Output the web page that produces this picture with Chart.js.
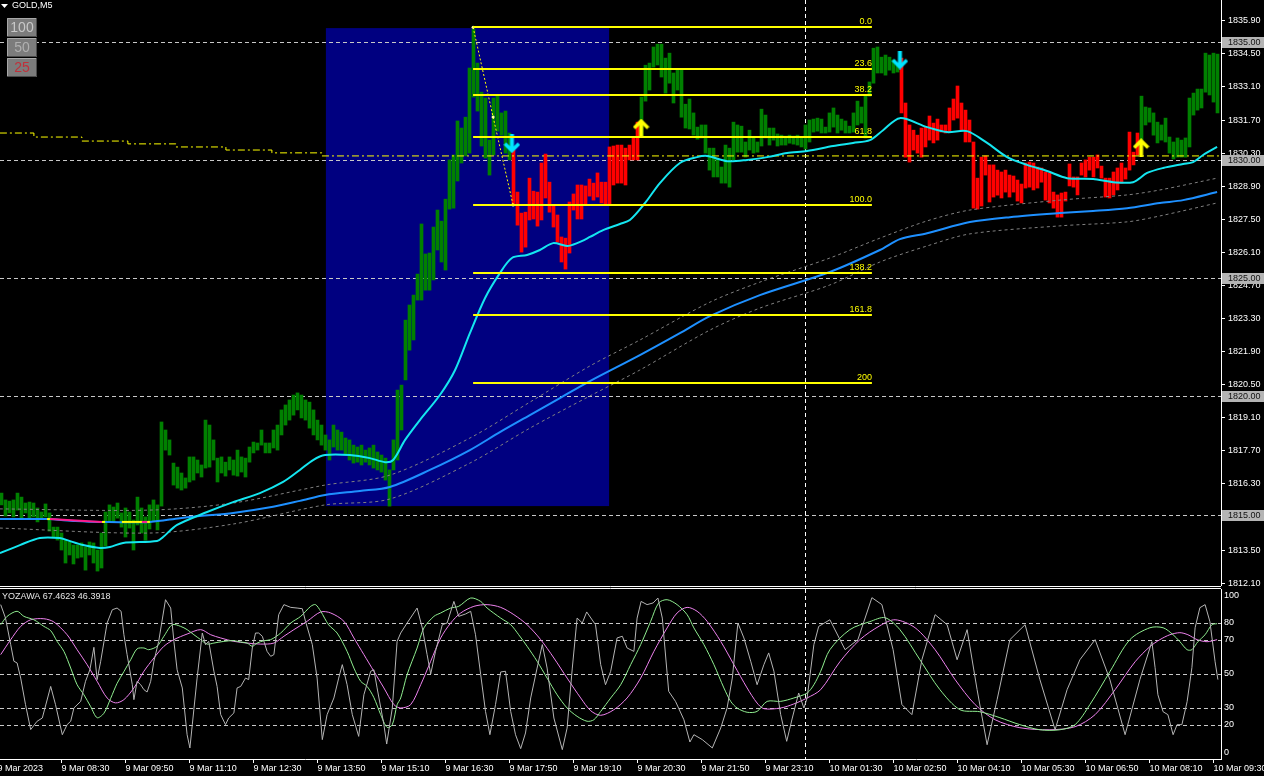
<!DOCTYPE html>
<html>
<head>
<meta charset="utf-8">
<title>GOLD,M5</title>
<script src="https://cdn.jsdelivr.net/npm/chart.js@4.4.1/dist/chart.umd.min.js"></script>
<style>
  html, body { margin: 0; padding: 0; background: #000; }
  #wrap { position: relative; width: 1264px; height: 776px; background: #000; overflow: hidden; }
  #wrap canvas { position: absolute; left: 0; top: 0; }
</style>
</head>
<body>
<div id="wrap">
  <canvas id="priceChart" width="1264" height="776"></canvas>
  <canvas id="oscChart" width="1264" height="776"></canvas>
</div>
<script>
// ---- data ----
const firstBar = 1;
const barHigh = [
  1815.91, 1815.62, 1815.57, 1815.62, 1815.91, 1815.74, 1815.49, 1815.53, 1815.49, 1815.28,
  1815.11, 1815.45, 1815.07, 1814.47, 1814.47, 1814.22, 1813.92, 1813.84, 1813.71, 1813.71,
  1813.80, 1813.63, 1813.84, 1813.80, 1813.50, 1814.22, 1815.11, 1815.41, 1815.32, 1815.49,
  1815.07, 1815.28, 1815.11, 1814.77, 1815.74, 1815.28, 1814.90, 1815.41, 1815.62, 1815.41,
  1818.92, 1818.58, 1818.16, 1817.18, 1817.01, 1816.76, 1816.55, 1817.44, 1817.44, 1817.31,
  1817.10, 1819.00, 1818.79, 1818.16, 1817.39, 1817.44, 1817.22, 1817.44, 1817.31, 1817.73,
  1817.44, 1817.39, 1817.86, 1818.07, 1818.03, 1818.58, 1818.03, 1818.03, 1818.58, 1818.79,
  1819.43, 1819.64, 1819.85, 1820.06, 1820.15, 1820.06, 1819.85, 1819.76, 1819.43, 1819.00,
  1818.79, 1818.37, 1818.16, 1818.79, 1818.58, 1818.49, 1818.24, 1818.16, 1817.94, 1817.86,
  1817.94, 1817.73, 1817.82, 1817.94, 1817.65, 1817.52, 1817.39, 1816.89, 1818.16, 1820.27,
  1820.48, 1823.23, 1823.87, 1824.29, 1825.18, 1827.30, 1826.03, 1826.07, 1827.17, 1827.89,
  1827.42, 1828.35, 1830.01, 1830.22, 1831.66, 1831.36, 1831.82, 1833.90, 1835.55, 1834.11,
  1832.88, 1832.63, 1830.85, 1832.63, 1832.71, 1832.00, 1832.08, 1831.15, 1830.43, 1828.65,
  1827.76, 1827.80, 1829.24, 1828.69, 1828.65, 1829.88, 1830.26, 1829.07, 1828.10, 1827.68,
  1826.75, 1826.70, 1828.23, 1828.57, 1828.95, 1828.95, 1828.91, 1829.20, 1829.03, 1829.46,
  1829.07, 1829.07, 1830.56, 1830.60, 1830.64, 1830.64, 1830.51, 1830.64, 1830.94, 1831.61,
  1832.67, 1834.02, 1834.11, 1834.79, 1834.91, 1834.91, 1834.32, 1834.53, 1833.69, 1833.81,
  1833.81, 1832.37, 1832.59, 1832.00, 1831.40, 1831.49, 1831.49, 1830.51, 1830.51, 1830.09,
  1829.71, 1830.64, 1830.51, 1831.61, 1831.49, 1831.44, 1830.77, 1831.27, 1830.94, 1830.77,
  1832.16, 1831.91, 1831.36, 1831.36, 1831.11, 1831.06, 1831.02, 1831.06, 1831.02, 1831.06,
  1830.98, 1831.49, 1831.70, 1831.74, 1831.78, 1831.74, 1831.40, 1832.00, 1832.21, 1831.91,
  1831.74, 1831.66, 1831.44, 1832.00, 1832.50, 1832.25, 1832.71, 1833.31, 1834.74, 1834.79,
  1834.36, 1834.45, 1834.36, 1834.24, 1834.11, 1834.32, 1832.42, 1831.49, 1831.27, 1831.06,
  1831.36, 1831.40, 1831.87, 1831.57, 1831.74, 1831.49, 1831.49, 1832.21, 1832.59, 1833.14,
  1832.42, 1832.12, 1831.70, 1830.77, 1829.24, 1830.13, 1830.18, 1829.80, 1829.80, 1829.58,
  1829.50, 1829.58, 1829.37, 1829.33, 1829.16, 1828.99, 1829.88, 1829.92, 1829.88, 1829.71,
  1829.67, 1829.50, 1829.46, 1828.65, 1828.53, 1828.61, 1828.65, 1829.84, 1829.29, 1829.29,
  1829.88, 1830.01, 1830.13, 1830.13, 1830.22, 1829.75, 1829.24, 1829.24, 1829.50, 1829.67,
  1829.88, 1829.67, 1831.19, 1830.34, 1831.15, 1832.71, 1832.25, 1832.21, 1832.00, 1831.61,
  1831.49, 1831.78, 1830.98, 1830.77, 1830.94, 1830.85, 1830.94, 1832.63, 1832.84, 1833.01,
  1833.01, 1834.53, 1834.45, 1834.53, 1834.49
];
const barLow = [
  1815.41, 1814.94, 1815.07, 1814.90, 1815.19, 1814.85, 1815.07, 1814.81, 1814.90, 1814.69,
  1814.85, 1814.90, 1814.30, 1814.05, 1813.92, 1813.50, 1812.95, 1813.29, 1812.91, 1813.16,
  1813.20, 1812.65, 1813.29, 1812.95, 1812.61, 1812.74, 1813.67, 1814.69, 1814.69, 1814.85,
  1814.47, 1814.05, 1814.43, 1813.50, 1814.56, 1814.22, 1813.92, 1814.39, 1814.69, 1814.35,
  1815.36, 1817.73, 1817.52, 1816.25, 1816.12, 1816.04, 1816.12, 1816.38, 1816.46, 1816.76,
  1816.59, 1816.97, 1817.01, 1817.31, 1816.38, 1816.76, 1816.63, 1816.89, 1816.67, 1816.63,
  1816.80, 1816.59, 1817.22, 1817.61, 1817.73, 1817.94, 1817.61, 1817.61, 1817.82, 1817.73,
  1818.37, 1818.79, 1819.00, 1819.21, 1819.43, 1819.09, 1819.00, 1818.66, 1818.37, 1818.16,
  1817.94, 1817.73, 1817.31, 1817.86, 1817.73, 1817.73, 1817.52, 1817.31, 1817.18, 1817.22,
  1817.10, 1817.22, 1817.10, 1816.97, 1816.89, 1816.80, 1816.46, 1815.36, 1816.89, 1817.31,
  1818.58, 1820.70, 1821.96, 1822.39, 1824.08, 1824.08, 1824.50, 1824.50, 1824.93, 1826.20,
  1825.69, 1825.35, 1827.93, 1827.97, 1829.12, 1829.88, 1830.18, 1830.30, 1832.67, 1832.08,
  1830.60, 1830.09, 1829.37, 1830.22, 1831.23, 1831.06, 1830.30, 1830.01, 1828.10, 1827.25,
  1826.11, 1826.32, 1827.47, 1827.51, 1827.21, 1827.47, 1828.40, 1827.80, 1827.17, 1826.53,
  1825.69, 1825.39, 1826.07, 1827.89, 1827.51, 1827.51, 1828.10, 1828.48, 1828.31, 1828.44,
  1828.19, 1828.10, 1828.14, 1828.95, 1829.03, 1829.03, 1828.95, 1830.01, 1830.01, 1830.01,
  1830.98, 1832.50, 1832.97, 1833.94, 1834.03, 1833.52, 1832.84, 1833.26, 1832.42, 1832.97,
  1831.82, 1831.36, 1831.32, 1831.06, 1830.89, 1830.94, 1830.30, 1829.58, 1829.29, 1829.29,
  1829.03, 1829.03, 1828.86, 1830.01, 1830.34, 1830.34, 1830.13, 1830.43, 1830.30, 1830.34,
  1830.60, 1830.94, 1830.64, 1830.85, 1830.60, 1830.64, 1830.64, 1830.72, 1830.68, 1830.64,
  1830.56, 1830.47, 1830.77, 1831.19, 1831.23, 1831.15, 1831.15, 1831.19, 1831.40, 1831.15,
  1831.27, 1831.15, 1831.15, 1831.19, 1831.49, 1831.57, 1830.94, 1832.71, 1833.26, 1833.69,
  1833.69, 1833.60, 1833.81, 1833.69, 1833.73, 1832.00, 1830.13, 1829.92, 1830.43, 1830.30,
  1830.13, 1830.56, 1830.85, 1830.73, 1830.85, 1831.19, 1831.15, 1831.19, 1831.70, 1831.78,
  1831.27, 1830.77, 1830.77, 1827.97, 1827.93, 1828.06, 1829.37, 1828.23, 1828.44, 1828.52,
  1828.40, 1828.65, 1828.44, 1828.65, 1828.27, 1828.19, 1828.82, 1828.86, 1828.74, 1828.82,
  1829.07, 1828.31, 1828.19, 1827.97, 1827.59, 1827.59, 1828.27, 1828.91, 1828.86, 1828.53,
  1829.37, 1829.29, 1829.58, 1829.29, 1829.67, 1829.24, 1828.44, 1828.40, 1828.53, 1828.74,
  1829.03, 1829.20, 1829.58, 1829.80, 1830.22, 1830.85, 1831.49, 1831.61, 1831.06, 1830.73,
  1830.85, 1830.77, 1830.30, 1830.05, 1830.13, 1830.13, 1830.13, 1830.56, 1831.91, 1832.12,
  1832.21, 1832.88, 1832.76, 1832.46, 1832.00
];
// bars painted red by the trend indicator (first, last bar index)
const redFrom = [129, 226];
const redTo = [160, 285];

// moving averages (bar index, price)
const cyanIdx = [0.6, 5.6, 10.6, 15.6, 17.4, 21.4, 25.6, 28.1, 31.4, 39.9, 41.4, 44.9, 52.4, 58.9, 65.6, 71.4, 75.6, 78.9, 81.9, 88.1,
  93.1, 96.9, 98.9, 101.9, 105.6, 110.6, 114.4, 118.1, 121.9, 125.6, 128.6, 132.4, 135.6, 138.9, 142.4, 144.9, 148.1, 151.4, 155.6, 158.1,
  161.9, 165.6, 170.6, 174.9, 177.4, 182.4, 187.4, 192.4, 197.4, 202.4, 208.9, 213.9, 218.1, 221.4, 225.6, 232.4, 237.4, 242.4, 247.4, 252.4,
  257.4, 262.4, 267.4, 273.9, 278.9, 283.9, 287.4, 291.4, 296.4, 298.9, 301.4, 304.9];
const cyanPrice = [1813.37, 1813.71, 1814.01, 1814.01, 1813.92, 1813.71, 1813.59, 1813.63, 1813.80, 1813.88, 1814.05, 1814.56, 1815.11, 1815.53, 1815.91, 1816.38, 1816.89, 1817.31, 1817.52, 1817.52,
  1817.39, 1817.22, 1817.31, 1818.16, 1819.00, 1820.06, 1821.12, 1822.68, 1824.17, 1825.22, 1825.86, 1825.99, 1826.20, 1826.49, 1826.37, 1826.49, 1826.75, 1827.04, 1827.30, 1827.47,
  1828.19, 1829.03, 1829.88, 1830.13, 1830.18, 1829.96, 1830.01, 1830.13, 1830.30, 1830.39, 1830.60, 1830.73, 1830.85, 1831.27, 1831.78, 1831.40, 1831.19, 1831.23, 1830.73, 1830.13,
  1829.80, 1829.54, 1829.24, 1829.20, 1829.07, 1829.07, 1829.46, 1829.67, 1829.84, 1829.92, 1830.22, 1830.56];

const blueIdx = [0.6, 12.4, 19.4, 25.6, 38.1, 45.6, 50.6, 58.9, 68.9, 75.6, 81.9, 90.6, 98.1, 108.1, 118.1, 125.6, 133.1, 140.6, 148.1, 160.6,
  170.6, 178.1, 190.6, 208.1, 220.6, 225.6, 232.4, 243.1, 253.1, 265.6, 273.9, 282.4, 290.6, 296.4, 304.9];
const bluePrice = [1814.81, 1814.81, 1814.73, 1814.69, 1814.69, 1814.85, 1814.94, 1815.07, 1815.33, 1815.58, 1815.83, 1816.00, 1816.17, 1816.89, 1817.73, 1818.49, 1819.21, 1819.93, 1820.65, 1821.75,
  1822.68, 1823.40, 1824.29, 1825.27, 1826.20, 1826.66, 1826.91, 1827.38, 1827.59, 1827.76, 1827.85, 1827.97, 1828.19, 1828.31, 1828.65];

const envIdx = [0.6, 38.1, 58.9, 81.9, 98.1, 118.1, 133.1, 148.1, 160.6, 178.1, 190.6, 208.1, 220.6, 232.4, 243.1, 265.6, 282.4, 290.6, 304.9];
const envUpper = [1815.24, 1815.19, 1815.49, 1816.25, 1816.67, 1818.24, 1819.76, 1821.29, 1822.39, 1823.99, 1824.84, 1825.86, 1826.70, 1827.43, 1827.89, 1828.31, 1828.53, 1828.74, 1829.24];
const envLower = [1814.43, 1814.22, 1814.60, 1815.41, 1815.66, 1817.18, 1818.66, 1820.02, 1821.12, 1822.81, 1823.74, 1824.72, 1825.69, 1826.37, 1826.88, 1827.22, 1827.39, 1827.64, 1828.19];

// coloured pieces of the slow average
const segFrom = [12.4, 13.1, 26.1, 31.1, 36.1, 37.4];
const segTo = [13.1, 26.1, 26.9, 36.1, 37.4, 38.1];
const segPriceFrom = [1814.81, 1814.81, 1814.69, 1814.69, 1814.69, 1814.69];
const segPriceTo = [1814.81, 1814.69, 1814.69, 1814.69, 1814.69, 1814.69];
const segColor = ['#ffff00', '#ff1a8c', '#ffff00', '#ffff00', '#ff1a8c', '#ffff00'];

// stepped yellow dash-dot line
const stepIdx = [0.6, 9.1, 21.1, 32.6, 44.6, 57.1, 68.6, 81.1, 305.9];
const stepPrice = [1831.15, 1830.98, 1830.81, 1830.69, 1830.56, 1830.43, 1830.31, 1830.18, 1830.18];

// zigzag + fibonacci
const zigIdx = [118.9, 123.9, 128.9];
const zigPrice = [1835.63, 1831.83, 1828.10];
const fibRatios = [0, 23.6, 38.2, 61.8, 100, 138.2, 161.8, 200];
const fibLabels = ['0.0', '23.6', '38.2', '61.8', '100.0', '138.2', '161.8', '200'];
const fibHigh = 1835.63, fibLow = 1828.10, fibFrom = 118.9, fibTo = 218.6;

// blue rectangle
const boxFrom = 82.1, boxTo = 152.9, boxTop = 1835.59, boxBottom = 1815.36;

// signal arrows
const downIdx = [128.6, 225.6];
const downPrice = [1830.70, 1834.24];
const upIdx = [160.9, 285.9];
const upPrice = [1831.36, 1830.53];

const priceLevels = [1835, 1830, 1825, 1820, 1815];
const priceTicks = [1812.1, 1813.5, 1814.9, 1816.3, 1817.7, 1819.1, 1820.5, 1821.9, 1823.3, 1824.7, 1826.1, 1827.5, 1828.9, 1830.3, 1831.7, 1833.1, 1834.5, 1835.9];
const cursorIdx = 201.9;

const timeTicks = [0, 16, 32, 48, 64, 80, 96, 112, 128, 144, 160, 176, 192, 208, 224, 240, 256, 272, 288, 304];
const timeLabels = ['9 Mar 2023', '9 Mar 08:30', '9 Mar 09:50', '9 Mar 11:10', '9 Mar 12:30', '9 Mar 13:50', '9 Mar 15:10',
  '9 Mar 16:30', '9 Mar 17:50', '9 Mar 19:10', '9 Mar 20:30', '9 Mar 21:50', '9 Mar 23:10', '10 Mar 01:30', '10 Mar 02:50',
  '10 Mar 04:10', '10 Mar 05:30', '10 Mar 06:50', '10 Mar 08:10', '10 Mar 09:30'];

// oscillator (bar index, value)
const oscGray = [[0.8,90.8],[2.0,82.9],[3.3,67.3],[4.1,57.5],[4.9,56.5],[5.8,47.6],[7.0,32.0],[8.3,17.3],[9.9,22.2],[11.2,24.1],
  [13.3,42.7],[14.5,32.0],[16.2,14.3],[17.4,20.2],[18.3,22.2],[19.1,30.0],[20.8,33.9],[22.0,45.7],[23.1,52.5],[24.1,65.7],
  [24.9,46.7],[25.8,57.5],[27.4,80.0],[28.7,87.8],[29.9,88.8],[30.9,86.9],[31.6,73.1],[32.4,61.4],[33.7,43.7],[34.1,34.9],
  [34.9,45.7],[35.8,43.7],[36.6,40.8],[37.4,39.4],[38.3,45.7],[39.1,57.5],[40.3,69.2],[42.0,93.7],[43.3,88.8],[44.1,69.2],
  [44.9,52.5],[46.2,41.8],[47.4,14.3],[48.1,6.5],[48.7,20.2],[49.9,47.6],[51.2,74.1],[52.0,67.3],[52.8,69.2],[54.1,51.6],
  [54.9,42.7],[55.8,26.1],[57.0,20.2],[57.8,24.1],[59.1,27.1],[59.9,41.8],[60.8,42.7],[62.0,47.6],[62.8,46.7],[63.7,65.3],
  [64.5,74.1],[65.3,74.1],[66.2,72.2],[67.4,63.3],[68.3,60.4],[69.1,61.4],[70.3,84.9],[71.6,90.8],[73.3,89.2],[74.9,88.8],
  [76.2,88.4],[77.0,81.0],[78.7,67.3],[79.9,47.6],[81.2,11.4],[82.4,26.1],[84.1,35.9],[85.3,47.6],[86.2,55.5],[87.4,43.7],
  [88.7,26.1],[90.3,13.3],[91.6,37.8],[93.3,51.6],[94.1,52.5],[94.9,41.8],[96.6,20.2],[97.3,8.8],[98.7,30.0],[99.9,69.2],
  [100.8,74.1],[102.4,80.0],[104.9,88.8],[106.2,77.1],[107.4,61.4],[108.3,50.0],[109.5,63.3],[111.2,79.0],[112.4,80.0],[114.1,92.7],
  [115.3,83.9],[117.0,85.3],[118.3,86.9],[119.5,73.1],[120.8,49.6],[122.0,28.0],[123.1,14.3],[124.5,32.0],[125.8,51.2],[127.0,51.6],
  [128.3,28.0],[129.5,14.3],[130.8,6.1],[132.0,15.3],[133.3,35.9],[134.9,53.5],[136.2,67.3],[137.4,53.5],[139.1,24.1],[141.2,5.5],
  [142.4,18.2],[143.7,53.5],[144.9,82.9],[146.2,80.0],[147.3,86.5],[149.5,79.0],[150.8,55.5],[152.0,43.7],[153.3,51.6],[154.9,71.2],
  [156.2,72.2],[157.4,65.3],[159.1,63.3],[159.9,82.9],[160.9,92.7],[162.4,90.8],[163.9,91.8],[165.1,94.7],[166.2,82.9],[167.8,39.8],
  [169.5,33.9],[171.6,23.1],[173.1,10.0],[174.1,14.3],[176.2,11.4],[178.7,6.5],[180.8,18.2],[182.4,30.0],[183.7,47.6],[185.1,80.0],
  [186.6,71.2],[188.3,57.5],[189.9,43.7],[191.6,55.5],[192.8,62.4],[194.1,51.6],[195.8,26.1],[197.3,10.4],[198.7,24.1],[200.3,38.8],
  [201.6,30.0],[202.4,35.9],[204.1,67.3],[205.3,78.0],[208.1,81.9],[211.9,64.3],[215.1,70.2],[218.6,94.9],[221.1,90.8],[223.9,64.3],
  [226.1,32.0],[228.6,26.1],[231.1,58.4],[234.4,84.9],[237.4,79.0],[239.9,58.4],[242.4,76.1],[244.9,40.8],[247.4,8.4],[249.9,34.9],
  [253.1,70.2],[256.9,79.0],[260.6,46.7],[264.4,17.2],[267.4,40.8],[270.6,58.4],[274.4,70.2],[278.1,46.7],[281.9,14.3],[285.6,46.7],
  [288.6,69.0],[289.4,53.7],[290.1,37.8],[291.4,27.8],[292.6,26.1],[293.9,14.3],[294.9,20.2],[296.1,20.2],[297.4,33.7],[298.6,53.7],
  [299.4,77.2],[300.6,89.0],[301.9,90.8],[303.1,80.8],[304.4,57.2],[305.1,46.7]];
const oscGreen = [[0.8,79.0],[2.4,83.9],[4.9,86.9],[6.6,83.9],[9.1,81.9],[11.6,78.0],[13.3,75.5],[14.9,69.2],[16.6,63.3],[18.3,53.5],
  [19.9,43.7],[21.6,37.8],[23.3,30.8],[24.9,24.3],[26.6,26.9],[28.3,35.7],[29.9,44.5],[31.6,51.4],[33.3,58.4],[34.9,64.8],
  [36.6,65.3],[37.8,64.3],[39.9,66.3],[41.6,72.2],[43.7,79.0],[45.8,78.0],[47.4,76.1],[49.1,73.1],[50.8,70.2],[52.4,67.6],
  [54.1,68.2],[56.6,69.2],[59.1,69.6],[60.8,68.8],[62.4,68.2],[63.7,66.3],[64.9,68.2],[66.6,69.6],[68.3,70.2],[70.8,74.1],
  [73.3,80.0],[75.8,83.9],[78.3,89.8],[79.5,90.8],[80.8,86.9],[82.8,78.9],[84.9,74.1],[87.4,63.3],[89.1,53.5],[90.8,45.7],
  [92.4,42.7],[94.1,36.1],[95.8,26.1],[97.4,18.6],[98.7,20.2],[99.9,31.9],[100.8,35.9],[102.4,49.6],[104.9,65.3],[106.6,77.1],
  [109.1,83.9],[110.8,85.9],[113.3,88.8],[115.3,89.8],[118.3,94.7],[120.8,92.7],[122.4,88.8],[125.8,82.9],[128.3,79.0],[130.3,73.1],
  [132.4,66.3],[134.9,57.5],[137.4,47.6],[139.9,37.8],[142.4,30.0],[144.9,25.1],[147.4,22.2],[149.1,23.1],[150.8,28.0],[153.3,35.9],
  [155.8,43.7],[158.3,55.5],[160.8,67.3],[163.3,81.0],[165.3,91.8],[167.4,93.7],[169.9,90.8],[172.4,84.9],[174.1,77.1],[176.6,67.3],
  [179.1,55.5],[181.6,41.8],[183.3,33.9],[184.9,30.0],[187.4,27.5],[189.9,28.0],[192.4,33.9],[195.8,33.9],[199.1,35.9],[202.4,38.8],
  [204.1,43.7],[205.8,51.6],[208.1,64.3],[213.1,76.1],[218.1,80.8],[221.9,83.1],[225.6,76.1],[230.6,58.4],[235.6,40.8],[240.6,29.0],
  [245.6,27.8],[250.6,24.3],[255.6,20.2],[260.6,17.2],[265.6,17.2],[269.4,20.2],[273.1,32.0],[278.1,51.4],[283.1,70.2],[288.1,77.2],
  [291.4,77.2],[293.9,73.1],[295.6,69.0],[297.4,64.3],[298.6,64.3],[300.1,69.0],[301.9,73.1],[303.6,79.0],[304.9,79.6]];
const oscViolet = [[0.8,61.4],[3.3,70.2],[5.8,78.0],[8.3,81.9],[11.6,82.5],[14.1,80.6],[17.4,73.1],[19.9,64.3],[22.4,55.5],[24.9,45.7],
  [27.4,35.9],[29.5,33.0],[31.6,34.9],[34.1,41.8],[36.6,51.6],[39.1,59.4],[41.6,66.3],[44.1,70.2],[47.4,73.5],[50.8,76.1],
  [53.3,73.1],[55.8,71.2],[59.1,69.2],[62.4,68.2],[65.8,67.6],[69.1,68.2],[71.6,72.2],[74.1,76.1],[77.4,81.0],[80.8,86.5],
  [83.3,85.9],[86.6,81.0],[89.1,71.2],[91.6,61.4],[94.1,51.6],[96.6,41.8],[99.1,32.0],[100.8,30.0],[103.3,32.0],[105.8,43.7],
  [108.3,57.5],[110.8,71.2],[113.3,80.0],[115.8,85.9],[119.1,89.8],[122.4,90.8],[125.8,89.2],[129.1,84.9],[132.4,79.0],[135.8,70.2],
  [139.1,59.4],[142.4,47.6],[145.8,35.9],[148.3,28.4],[150.8,25.7],[154.1,29.0],[157.4,35.9],[160.8,47.6],[164.1,63.3],[167.4,77.1],
  [169.9,85.9],[172.4,89.2],[174.9,86.9],[177.4,81.0],[180.8,69.2],[184.1,55.5],[187.4,41.8],[189.9,32.9],[191.6,29.6],[195.8,30.0],
  [199.1,32.4],[202.4,35.9],[205.8,40.8],[210.6,57.2],[215.6,70.2],[220.6,78.4],[224.4,81.9],[229.4,77.2],[234.4,64.3],[239.4,46.7],
  [244.4,32.0],[249.4,23.1],[255.6,18.4],[263.1,17.2],[269.4,19.0],[274.4,26.1],[279.4,40.8],[284.4,57.2],[288.1,66.1],[290.6,70.2],
  [293.1,73.1],[295.6,74.3],[297.6,73.1],[299.9,70.2],[302.4,69.0],[304.9,70.2]];
const oscLevels = [80, 70, 50, 30, 20];
const oscTitle = 'YOZAWA 67.4623 46.3918';

// ---- layout ----
const FONT = '"Liberation Sans", Arial, sans-serif';
Chart.defaults.font.family = FONT;
Chart.defaults.font.size = 9;
Chart.defaults.color = '#fff';

const X_MIN = 0.625, X_MAX = 305.875;
const PRICE_MIN = 1812.02, PRICE_MAX = 1836.78;
const GREEN = '#008000', RED = '#ff0000';

function pts(xs, ys) { return xs.map((x, k) => ({ x, y: ys[k] })); }
function pairs(list) { return list.map(p => ({ x: p[0], y: p[1] })); }
function isRed(i) { return redFrom.some((f, k) => i >= f && i <= redTo[k]); }
function noPad(s) { s.paddingTop = 0; s.paddingBottom = 0; s.paddingLeft = 0; s.paddingRight = 0; }

function arrowImage(color, up) {
  const c = document.createElement('canvas');
  c.width = 17; c.height = 19;
  const g = c.getContext('2d');
  if (!up) { g.translate(0, 19); g.scale(1, -1); }
  g.fillStyle = color;
  g.fillRect(6.5, 4, 4, 15);
  g.strokeStyle = color; g.lineWidth = 3.5; g.lineJoin = 'miter';
  g.beginPath(); g.moveTo(1.5, 9.5); g.lineTo(8.5, 2.5); g.lineTo(15.5, 9.5); g.stroke();
  return c;
}

const bars = barHigh.map((h, k) => ({ x: firstBar + k, y: [barLow[k], h] }));

const priceDecor = {
  id: 'priceDecor',
  beforeDatasetsDraw(chart) {
    const { ctx, chartArea: a, scales: { x, y } } = chart;
    ctx.save();
    ctx.beginPath(); ctx.rect(a.left, a.top, a.right - a.left, a.bottom - a.top); ctx.clip();
    const bx0 = x.getPixelForValue(boxFrom), bx1 = x.getPixelForValue(boxTo);
    const by0 = y.getPixelForValue(boxTop), by1 = y.getPixelForValue(boxBottom);
    ctx.fillStyle = '#000080';
    ctx.fillRect(bx0, by0, bx1 - bx0, by1 - by0);
    ctx.lineWidth = 1;
    ctx.strokeStyle = '#c8c8c8';
    ctx.setLineDash([4, 3]);
    priceLevels.forEach(v => {
      const py = Math.round(y.getPixelForValue(v)) + 0.5;
      ctx.beginPath(); ctx.moveTo(a.left, py); ctx.lineTo(a.right, py); ctx.stroke();
    });
    ctx.strokeStyle = '#ffffff';
    const vx = Math.round(x.getPixelForValue(cursorIdx)) + 0.5;
    ctx.beginPath(); ctx.moveTo(vx, a.top); ctx.lineTo(vx, a.bottom); ctx.stroke();
    ctx.restore();
  },
  afterDatasetsDraw(chart) {
    const { ctx, scales: { x, y } } = chart;
    const x0 = x.getPixelForValue(fibFrom), x1 = x.getPixelForValue(fibTo);
    ctx.save();
    ctx.strokeStyle = '#ffff00'; ctx.lineWidth = 2;
    ctx.fillStyle = '#ffff00'; ctx.font = '9px ' + FONT;
    ctx.textAlign = 'right'; ctx.textBaseline = 'bottom';
    fibRatios.forEach((r, k) => {
      const price = fibHigh - (fibHigh - fibLow) * r / 100;
      const py = Math.round(y.getPixelForValue(price));
      ctx.beginPath(); ctx.moveTo(x0, py); ctx.lineTo(x1, py); ctx.stroke();
      ctx.fillText(fibLabels[k], x1, py - 1);
    });
    ctx.restore();
  },
  afterDraw(chart) {
    const { ctx, chartArea: a, scales: { y } } = chart;
    ctx.save();
    ctx.font = '9px ' + FONT;
    ctx.textBaseline = 'middle'; ctx.textAlign = 'left';
    priceLevels.forEach(v => {
      const py = y.getPixelForValue(v);
      ctx.fillStyle = '#b4b4b4';
      ctx.fillRect(a.right + 1, Math.round(py) - 5, 43, 11);
      ctx.fillStyle = '#111';
      ctx.fillText(v.toFixed(2), a.right + 7, py + 0.5);
    });
    // symbol caption
    ctx.fillStyle = '#fff';
    ctx.beginPath(); ctx.moveTo(1, 4); ctx.lineTo(8, 4); ctx.lineTo(4.5, 8); ctx.closePath(); ctx.fill();
    ctx.fillText('GOLD,M5', 12, 6);
    // zoom buttons
    const labels = ['100', '50', '25'];
    const colors = ['#c8c8c8', '#b0b0b0', '#c0303a'];
    labels.forEach((t, k) => {
      const bx = 7, by = 18 + k * 20, bw = 30, bh = 19;
      ctx.fillStyle = '#7c7c7c'; ctx.fillRect(bx, by, bw, bh);
      ctx.strokeStyle = '#a8a8a8'; ctx.lineWidth = 1;
      ctx.beginPath(); ctx.moveTo(bx + 0.5, by + bh); ctx.lineTo(bx + 0.5, by + 0.5); ctx.lineTo(bx + bw, by + 0.5); ctx.stroke();
      ctx.strokeStyle = '#4a4a4a';
      ctx.beginPath(); ctx.moveTo(bx + bw - 0.5, by); ctx.lineTo(bx + bw - 0.5, by + bh - 0.5); ctx.lineTo(bx, by + bh - 0.5); ctx.stroke();
      ctx.fillStyle = colors[k]; ctx.font = '14px ' + FONT; ctx.textAlign = 'center';
      ctx.fillText(t, bx + bw / 2, by + bh / 2 + 1);
    });
    ctx.restore();
  }
};

new Chart(document.getElementById('priceChart'), {
  type: 'bar',
  data: {
    datasets: [
      { type: 'scatter', order: 0, data: pts(downIdx, downPrice), pointStyle: arrowImage('#00e5ff', false) },
      { type: 'scatter', order: 0, data: pts(upIdx, upPrice), pointStyle: arrowImage('#ffff00', true) },
      { type: 'line', order: 1, data: pts(zigIdx, zigPrice), borderColor: '#ffff00', borderWidth: 1, borderDash: [2, 2],
        pointRadius: 1.5, pointBackgroundColor: '#ffffa0', pointBorderWidth: 0, tension: 0 },
      ...segFrom.map((f, k) => ({ type: 'line', order: 2, data: [{ x: f, y: segPriceFrom[k] }, { x: segTo[k], y: segPriceTo[k] }],
        borderColor: segColor[k], borderWidth: 2, pointRadius: 0, tension: 0 })),
      { type: 'line', order: 3, data: pts(cyanIdx, cyanPrice), borderColor: '#14e6f0', borderWidth: 2, pointRadius: 0, tension: 0.3 },
      { type: 'line', order: 4, data: pts(blueIdx, bluePrice), borderColor: '#1e90ff', borderWidth: 2, pointRadius: 0, tension: 0.3 },
      { type: 'line', order: 5, data: pts(envIdx, envUpper), borderColor: '#808080', borderWidth: 1, borderDash: [3, 3], pointRadius: 0, tension: 0.3 },
      { type: 'line', order: 5, data: pts(envIdx, envLower), borderColor: '#808080', borderWidth: 1, borderDash: [3, 3], pointRadius: 0, tension: 0.3 },
      { type: 'line', order: 6, data: pts(stepIdx, stepPrice), borderColor: '#ffff00', borderWidth: 1, borderDash: [7, 3, 2, 3],
        stepped: 'before', pointRadius: 0 },
      { type: 'bar', order: 10, data: bars, backgroundColor: bars.map(b => isRed(b.x) ? RED : GREEN),
        barThickness: 3, borderWidth: 0, borderSkipped: false }
    ]
  },
  options: {
    responsive: false, animation: false, devicePixelRatio: 1,
    layout: { autoPadding: false, padding: { left: 0, right: 0, top: 0, bottom: 191 } },
    plugins: { legend: { display: false }, tooltip: { enabled: false } },
    scales: {
      x: { type: 'linear', min: X_MIN, max: X_MAX, display: false, offset: false, grid: { offset: false } },
      y: {
        position: 'right', min: PRICE_MIN, max: PRICE_MAX,
        afterFit(s) { s.width = 43; noPad(s); },
        afterBuildTicks(s) { s.ticks = priceTicks.map(v => ({ value: v })); },
        ticks: { color: '#fff', padding: 3, autoSkip: false, callback: v => Number(v).toFixed(2) },
        grid: { drawOnChartArea: false, drawTicks: true, tickLength: 4, color: '#fff' },
        border: { display: true, color: '#fff' }
      }
    }
  },
  plugins: [priceDecor]
});

const oscDecor = {
  id: 'oscDecor',
  beforeDatasetsDraw(chart) {
    const { ctx, chartArea: a, scales: { x, y } } = chart;
    ctx.save();
    ctx.lineWidth = 1;
    ctx.strokeStyle = '#c8c8c8';
    ctx.setLineDash([4, 3]);
    oscLevels.forEach(v => {
      const py = Math.round(y.getPixelForValue(v)) + 0.5;
      ctx.beginPath(); ctx.moveTo(a.left, py); ctx.lineTo(a.right, py); ctx.stroke();
    });
    ctx.strokeStyle = '#ffffff';
    const vx = Math.round(x.getPixelForValue(cursorIdx)) + 0.5;
    ctx.beginPath(); ctx.moveTo(vx, a.top); ctx.lineTo(vx, a.bottom); ctx.stroke();
    ctx.restore();
  },
  afterDraw(chart) {
    const { ctx, chartArea: a, scales: { y } } = chart;
    ctx.save();
    ctx.strokeStyle = '#fff'; ctx.lineWidth = 1;
    [586.5, 588.5].forEach(py => { ctx.beginPath(); ctx.moveTo(0, py); ctx.lineTo(a.right, py); ctx.stroke(); });
    ctx.fillStyle = '#fff'; ctx.font = '9px ' + FONT;
    ctx.textAlign = 'left'; ctx.textBaseline = 'middle';
    ctx.fillText('100', a.right + 3, y.getPixelForValue(100) + 6.5);
    ctx.fillText('0', a.right + 3, y.getPixelForValue(0) - 6);
    ctx.fillStyle = '#e6e6e6';
    ctx.fillText(oscTitle, 2, 597);
    ctx.restore();
  }
};

new Chart(document.getElementById('oscChart'), {
  type: 'line',
  data: {
    datasets: [
      { data: pairs(oscGray), borderColor: '#b4b4b4', borderWidth: 1, pointRadius: 0, tension: 0 },
      { data: pairs(oscGreen), borderColor: '#90ee90', borderWidth: 1, pointRadius: 0, tension: 0.3 },
      { data: pairs(oscViolet), borderColor: '#ee82ee', borderWidth: 1, pointRadius: 0, tension: 0.3 }
    ]
  },
  options: {
    responsive: false, animation: false, devicePixelRatio: 1,
    layout: { autoPadding: false, padding: { left: 0, right: 0, top: 589, bottom: 0 } },
    plugins: { legend: { display: false }, tooltip: { enabled: false } },
    scales: {
      x: {
        type: 'linear', min: X_MIN, max: X_MAX,
        afterFit(s) { s.height = 17; noPad(s); },
        afterBuildTicks(s) { s.ticks = timeTicks.map(v => ({ value: v })); },
        ticks: { align: 'start', color: '#fff', autoSkip: false, maxRotation: 0, padding: 0,
          callback: v => timeLabels[timeTicks.indexOf(v)] },
        grid: { drawOnChartArea: false, drawTicks: true, tickLength: 4, color: '#fff' },
        border: { display: true, color: '#fff' }
      },
      y: {
        position: 'right', min: 0, max: 100,
        afterFit(s) { s.width = 43; noPad(s); },
        afterBuildTicks(s) { s.ticks = oscLevels.map(v => ({ value: v })); },
        ticks: { color: '#fff', padding: 3, autoSkip: false },
        grid: { drawOnChartArea: false, drawTicks: false },
        border: { display: true, color: '#fff' }
      }
    }
  },
  plugins: [oscDecor]
});
</script>
</body>
</html>
